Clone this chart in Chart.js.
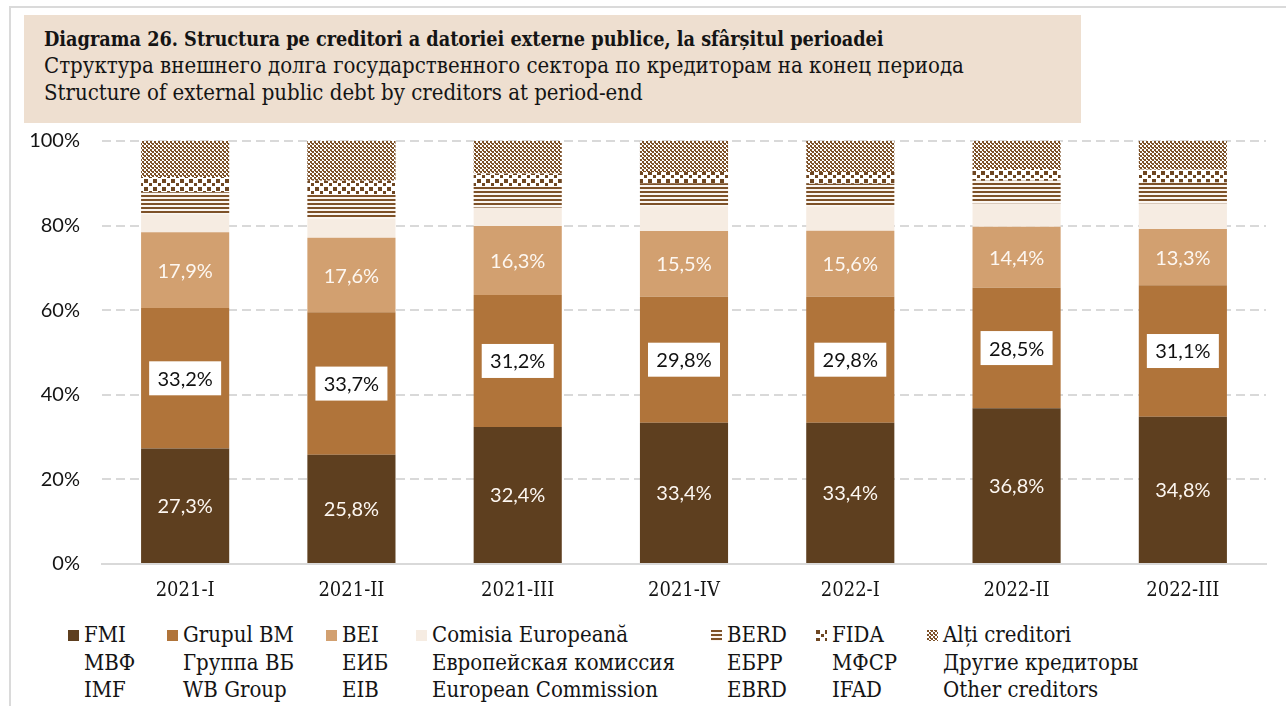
<!DOCTYPE html>
<html>
<head>
<meta charset="utf-8">
<script src="https://cdn.jsdelivr.net/npm/chart.js@4"></script>
<style>
  html, body { margin: 0; padding: 0; background: #fff; }
  body { width: 1286px; height: 706px; position: relative; overflow: hidden; font-family: "DejaVu Serif Condensed", "DejaVu Serif", serif; color: #141414; }
  #frame { position: absolute; left: 9px; top: 6px; width: 1300px; height: 720px; border-top: 2px solid #dadada; border-left: 2px solid #dadada; }
  #titleBox { position: absolute; left: 24px; top: 15px; width: 1057px; height: 108px; background: #eedfd0; }
  #titleBox div { position: absolute; left: 20px; font-size: 22px; line-height: 24px; white-space: nowrap; }
  #chartWrap { position: absolute; left: 0; top: 107px; width: 1286px; height: 504px; }
  .lg { position: absolute; top: 621px; font-size: 22px; line-height: 27.5px; white-space: nowrap; }
  .lg canvas { position: absolute; left: -16px; top: 9px; }
</style>
</head>
<body>
<div id="frame"></div>
<div id="titleBox">
  <div style="top:13px;font-weight:bold;font-size:19.7px">Diagrama 26. Structura pe creditori a datoriei externe publice, la sfârșitul perioadei</div>
  <div style="top:39px">Структура внешнего долга государственного сектора по кредиторам на конец периода</div>
  <div style="top:66px">Structure of external public debt by creditors at period-end</div>
</div>
<div id="chartWrap"><canvas id="debtChart"></canvas></div>
<div id="legend"></div>

<script>
// periods and shares (%)
const periods = ['2021-I', '2021-II', '2021-III', '2021-IV', '2022-I', '2022-II', '2022-III'];

const fmi      = [27.3, 25.8, 32.4, 33.4, 33.4, 36.8, 34.8];
const grupulBM = [33.2, 33.7, 31.2, 29.8, 29.8, 28.5, 31.1];
const bei      = [17.9, 17.6, 16.3, 15.5, 15.6, 14.4, 13.3];
const comisia  = [4.3, 4.5, 4.3, 5.9, 5.7, 5.5, 6.0];
const berd     = [5.2, 5.7, 5.0, 5.4, 5.4, 5.4, 5.0];
const fida     = [3.6, 3.3, 3.1, 2.7, 2.8, 2.8, 3.0];
const altii    = [8.5, 9.4, 7.7, 7.3, 7.3, 6.6, 6.8];

const namesRo = ['FMI', 'Grupul BM', 'BEI', 'Comisia Europeană', 'BERD', 'FIDA', 'Alți creditori'];
const namesRu = ['МВФ', 'Группа ВБ', 'ЕИБ', 'Европейская комиссия', 'ЕБРР', 'МФСР', 'Другие кредиторы'];
const namesEn = ['IMF', 'WB Group', 'EIB', 'European Commission', 'EBRD', 'IFAD', 'Other creditors'];

// legend text x positions (layout only)
const legendX = [84, 183, 342, 432, 727, 832, 943];

function makePattern(kind) {
  const c = document.createElement('canvas');
  const g = c.getContext('2d');
  if (kind === 'stripes') {
    c.width = 4; c.height = 4;
    g.fillStyle = '#fbf6f1'; g.fillRect(0, 0, 4, 4);
    g.fillStyle = '#7d5128'; g.fillRect(0, 0, 4, 2);
  } else if (kind === 'squares') {
    c.width = 9; c.height = 8;
    g.fillStyle = '#ffffff'; g.fillRect(0, 0, 9, 8);
    g.fillStyle = '#6e4621'; g.fillRect(0, 0, 4, 4); g.fillRect(5, 4, 3, 3);
  } else {
    c.width = 4; c.height = 4;
    g.fillStyle = '#ffffff'; g.fillRect(0, 0, 4, 4);
    g.fillStyle = '#7d5128'; g.fillRect(0, 0, 2, 2); g.fillRect(2, 2, 2, 2); g.fillRect(3, 0, 1, 1);
  }
  return g.createPattern(c, 'repeat');
}

const fills = [
  '#5e3f1f',
  '#b0743a',
  '#d2a070',
  '#f6ece2',
  makePattern('stripes'),
  makePattern('squares'),
  makePattern('checker')
];
const series = [fmi, grupulBM, bei, comisia, berd, fida, altii];

const labelPlugin = {
  id: 'segLabels',
  afterDatasetsDraw(chart) {
    const g = chart.ctx;
    [0, 1, 2].forEach(di => {
      const meta = chart.getDatasetMeta(di);
      meta.data.forEach((bar, i) => {
        const v = chart.data.datasets[di].data[i];
        const txt = v.toFixed(1).replace('.', ',') + '%';
        const y = (bar.y + bar.base) / 2;
        g.save();
        g.font = '20px Lato';
        g.textAlign = 'center';
        g.textBaseline = 'middle';
        if (di === 1) {
          g.fillStyle = '#ffffff';
          g.fillRect(bar.x - 36, y - 17, 72, 34);
          g.fillStyle = '#111111';
        } else {
          g.fillStyle = '#fdf7f1';
        }
        g.fillText(txt, bar.x, y + 1);
        g.restore();
      });
    });
  }
};

new Chart(document.getElementById('debtChart'), {
  type: 'bar',
  data: {
    labels: periods,
    datasets: series.map((d, i) => ({
      label: namesRo[i],
      data: d,
      backgroundColor: fills[i],
      borderWidth: 0,
      barPercentage: 0.53,
      categoryPercentage: 1
    }))
  },
  options: {
    responsive: true,
    maintainAspectRatio: false,
    animation: false,
    layout: { padding: { top: 0, right: 20, left: 0, bottom: 0 } },
    plugins: { legend: { display: false }, tooltip: { enabled: false } },
    scales: {
      x: {
        stacked: true,
        grid: { display: false },
        border: { display: true, color: '#d9d9d9', width: 2 },
        ticks: { font: { family: 'DejaVu Serif Condensed', size: 20 }, color: '#141414', padding: 7 },
        afterFit: s => { s.height = 47; }
      },
      y: {
        stacked: true,
        min: 0,
        max: 100,
        ticks: { stepSize: 20, callback: v => v + '%', font: { family: 'Lato', size: 20 }, color: '#141414', padding: 22 },
        grid: { color: '#d9d9d9', lineWidth: 2, drawTicks: false },
        border: { display: false, dash: [9, 5] },
        afterFit: s => { s.width = 102; }
      }
    }
  },
  plugins: [labelPlugin]
});

// legend: three language lines per series
const legend = document.getElementById('legend');
namesRo.forEach((n, i) => {
  const div = document.createElement('div');
  div.className = 'lg';
  div.style.left = legendX[i] + 'px';
  const m = document.createElement('canvas');
  m.width = 11; m.height = 11;
  const mg = m.getContext('2d');
  mg.fillStyle = fills[i];
  mg.fillRect(0, 0, 11, 11);
  div.appendChild(m);
  div.appendChild(document.createTextNode(n));
  div.appendChild(document.createElement('br'));
  div.appendChild(document.createTextNode(namesRu[i]));
  div.appendChild(document.createElement('br'));
  div.appendChild(document.createTextNode(namesEn[i]));
  legend.appendChild(div);
});
</script>
</body>
</html>
